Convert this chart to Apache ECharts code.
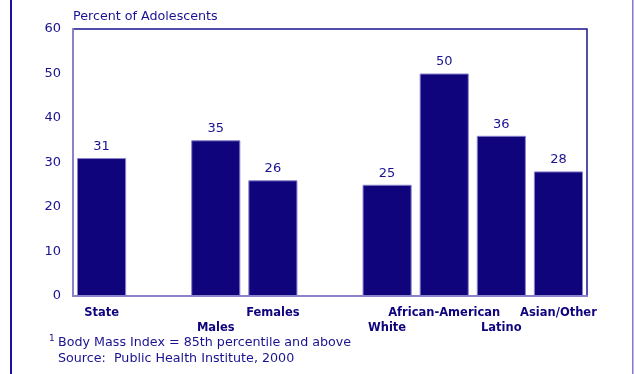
<!DOCTYPE html>
<html>
<head>
<meta charset="utf-8">
<script src="https://cdn.jsdelivr.net/npm/echarts@6/dist/echarts.min.js"></script>
<style>
  html, body { margin: 0; padding: 0; background: #ffffff; }
  #chart { width: 635px; height: 374px; }
</style>
</head>
<body>
<div id="chart"></div>
<script>
// Overweight adolescents by group (percent); blank slots separate the groups
const categories = ['State', '', 'Males', 'Females', '', 'White', 'African-American', 'Latino', 'Asian/Other'];
const percentValues = [31, null, 35, 26, null, 25, 50, 36, 28];
const yTicks = [0, 10, 20, 30, 40, 50, 60];

const NAVY = '#10047c';
const TEXT = '#1a1290';
const LAVENDER = '#8a82cc';
const FONT = '"DejaVu Sans", Verdana, sans-serif';

// Category labels alternate between two rows so long names do not collide
const labelRow = [];
let shown = 0;
categories.forEach(function (c) {
  labelRow.push(c ? (shown++ % 2) : 0);
});

const chart = echarts.init(document.getElementById('chart'), null, { renderer: 'canvas' });

chart.setOption({
  animation: false,
  backgroundColor: '#ffffff',
  grid: {
    left: 73, right: 48, top: 29, bottom: 78,
    show: true, borderColor: '#1c1490', borderWidth: 1.5, backgroundColor: 'transparent'
  },
  xAxis: {
    type: 'category',
    data: categories,
    axisLine: { show: true, lineStyle: { color: LAVENDER, width: 2 } },
    axisTick: { show: false },
    axisLabel: {
      interval: 0,
      margin: 10,
      color: NAVY,
      fontFamily: FONT,
      fontWeight: 'bold',
      fontSize: 11.5,
      lineHeight: 15,
      formatter: function (value, index) {
        return labelRow[index] === 1 ? '\n' + value : value;
      }
    }
  },
  yAxis: {
    type: 'value',
    min: yTicks[0],
    max: yTicks[yTicks.length - 1],
    interval: yTicks[1] - yTicks[0],
    axisLine: { show: true, lineStyle: { color: LAVENDER, width: 2 } },
    axisTick: { show: false },
    splitLine: { show: false },
    axisLabel: {
      margin: 12,
      color: TEXT,
      fontFamily: FONT,
      fontSize: 13
    }
  },
  series: [{
    type: 'bar',
    data: percentValues,
    barCategoryGap: '14%',
    itemStyle: { color: NAVY, borderColor: LAVENDER, borderWidth: 1 },
    label: {
      show: true,
      position: 'top',
      distance: 5,
      color: TEXT,
      fontFamily: FONT,
      fontSize: 13
    }
  }],
  graphic: [
    { type: 'rect', left: 10, top: 0, shape: { width: 2, height: 374 }, style: { fill: '#1e10a0' } },
    { type: 'rect', left: 632, top: 0, shape: { width: 1.5, height: 374 }, style: { fill: '#8878d0' } },
    { type: 'text', left: 73, top: 10, style: { text: 'Percent of Adolescents', fill: TEXT, font: '12.7px ' + FONT } },
    { type: 'text', left: 49, top: 334, style: { text: '1', fill: TEXT, font: '9px ' + FONT } },
    { type: 'text', left: 58, top: 336, style: { text: 'Body Mass Index = 85th percentile and above', fill: TEXT, font: '12.7px ' + FONT } },
    { type: 'text', left: 58, top: 352, style: { text: 'Source:  Public Health Institute, 2000', fill: TEXT, font: '12.7px ' + FONT } }
  ]
});
</script>
</body>
</html>
